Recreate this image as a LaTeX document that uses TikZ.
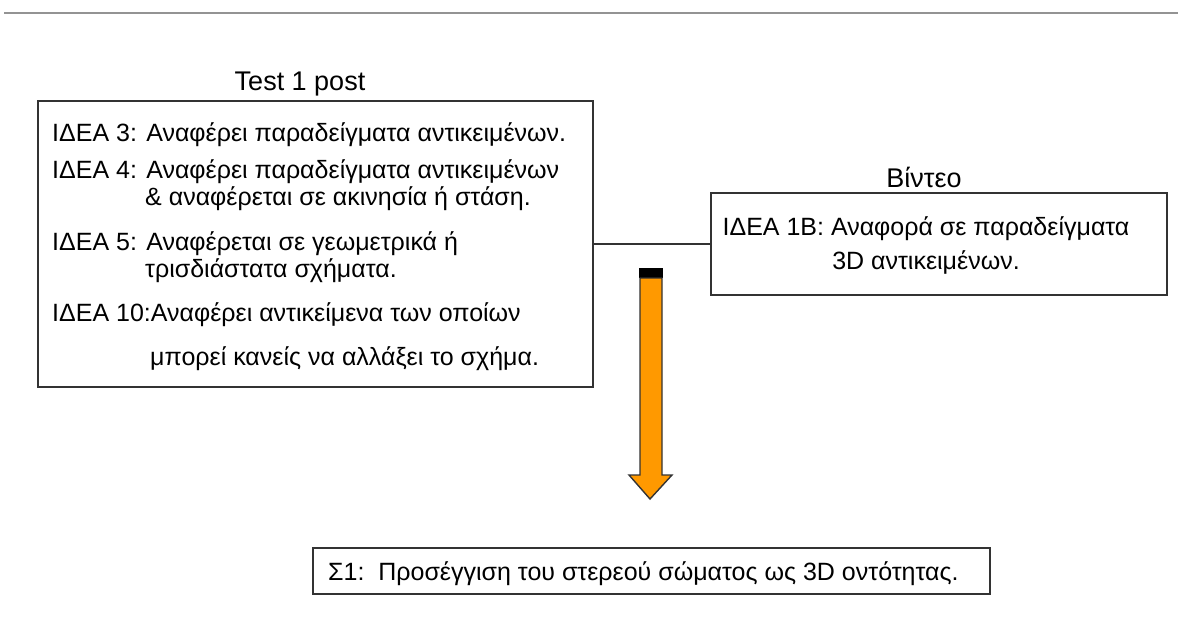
\documentclass[tikz,border=0pt]{standalone}
\usepackage{fontspec}
\setmainfont{Liberation Sans}
\usetikzlibrary{positioning}
\definecolor{arroworange}{HTML}{FF9900}
\definecolor{frame}{HTML}{333333}
\tikzset{
  box/.style={draw=frame, line width=1.6pt, inner sep=0pt, anchor=north west},
  txt/.style={inner sep=0pt, anchor=base west, font=\fontsize{25}{30}\selectfont},
  ctxt/.style={inner sep=0pt, anchor=base, font=\fontsize{25}{30}\selectfont},
  ttl/.style={inner sep=0pt, anchor=base, font=\fontsize{27}{32}\selectfont}
}
\begin{document}
\begin{tikzpicture}[x=1pt,y=-1pt]
\useasboundingbox (0,0) rectangle (1178,634);
\draw[gray!85, line width=2.6pt] (4,13) -- (1178,13);
% boxes
\node[box, minimum width=555pt, minimum height=286pt] (post) at (37,100) {};
\node[box, minimum width=456pt, minimum height=102pt] (video) at (710,192) {};
\node[box, minimum width=677pt, minimum height=46pt] (res) at (312,547) {};
\draw[frame, line width=1.4pt] (post.east) -- (video.west);
% titles
\node[ttl] (posttitle) at (300,90) {Test 1 post};
\node[ttl] (videotitle) at (924,187) {Βίντεο};
% left box text
\node[txt] (i3) at (52,141) {ΙΔΕΑ 3: Αναφέρει παραδείγματα αντικειμένων.};
\node[txt] (i4) at (52,178) {ΙΔΕΑ 4: Αναφέρει παραδείγματα αντικειμένων};
\node[txt] (i4b) at (145,205) {\& αναφέρεται σε ακινησία ή στάση.};
\node[txt] (i5) at (52,250) {ΙΔΕΑ 5: Αναφέρεται σε γεωμετρικά ή};
\node[txt] (i5b) at (145,277) {τρισδιάστατα σχήματα.};
\node[txt] (i10) at (52,321) {ΙΔΕΑ 10:Αναφέρει αντικείμενα των οποίων};
\node[txt] (i10b) at (150,365) {μπορεί κανείς να αλλάξει το σχήμα.};
% right box text
\node[ctxt] (v1) at (926,235) {ΙΔΕΑ 1Β: Αναφορά σε παραδείγματα};
\node[ctxt] (v2) at (926,269) {3D αντικειμένων.};
% bottom text
\node[txt] (s1) at (328,580) {Σ1:\ \ Προσέγγιση του στερεού σώματος ως 3D οντότητας.};
% arrow
\fill[black] (639,268) rectangle (663,278);
\draw[frame, line width=1.4pt, fill=arroworange, line join=miter]
  (640,278) -- (640,475) -- (629,475) -- (650,499) -- (672,475) -- (662,475) -- (662,278) -- cycle;
\end{tikzpicture}
\end{document}
